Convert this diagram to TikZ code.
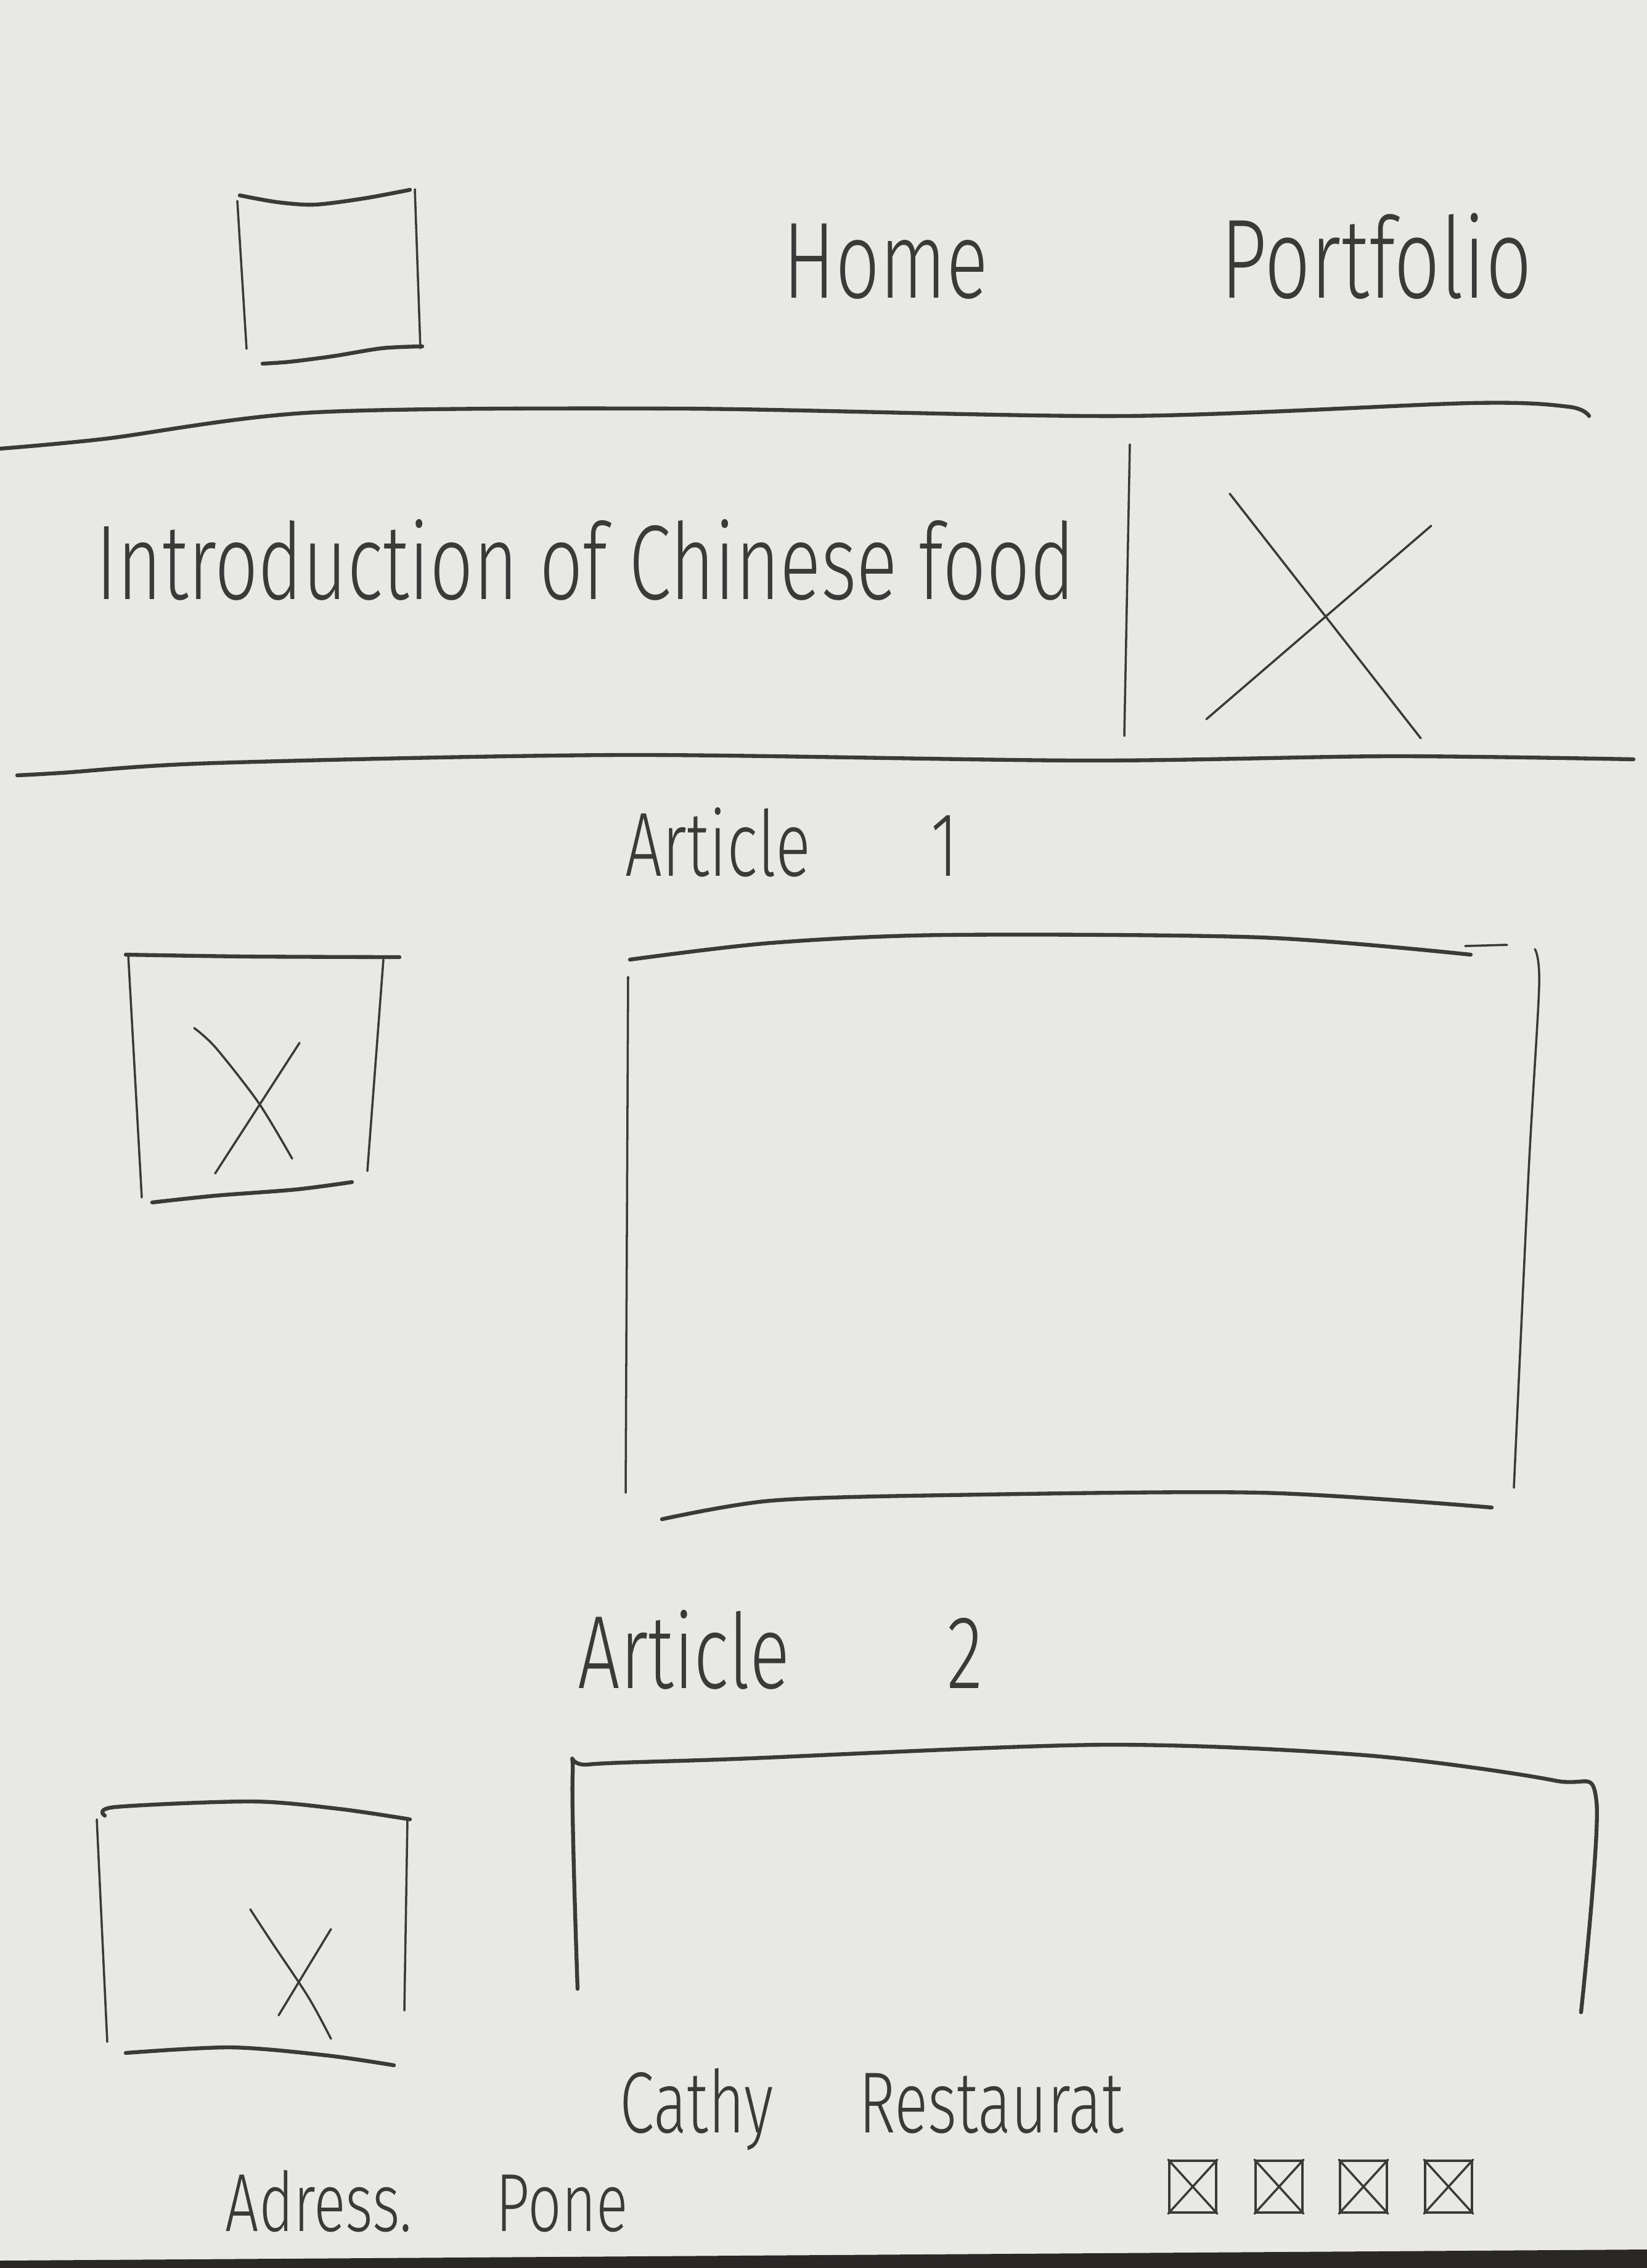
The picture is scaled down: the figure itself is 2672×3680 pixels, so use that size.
\documentclass[tikz,border=0pt]{standalone}
\usepackage{fontspec}
\usepackage{tikz}
\usetikzlibrary{positioning,calc}
\newfontfamily\handfont[FakeStretch=0.72]{Fira Sans Light}
\newcommand{\hsz}[1]{\handfont\fontsize{#1}{#1}\selectfont}
\definecolor{paper}{RGB}{232,233,229}
\definecolor{ink}{RGB}{58,58,56}
\definecolor{tabledark}{RGB}{42,40,38}

\begin{document}
\begin{tikzpicture}[x=0.01cm, y=-0.01cm,
  pen/.style={draw=ink, line width=1pt, line cap=round, line join=round},
  thickpen/.style={draw=ink, line width=1.8pt, line cap=round, line join=round},
  hand/.style={inner sep=0pt, anchor=base west, text=ink},
  icon/.style={pen, minimum width=0.76cm, minimum height=0.84cm, inner sep=0pt},
]
\useasboundingbox (0,0) rectangle (2672,3680);
\fill[paper] (0,0) rectangle (2672,3680);
\fill[tabledark] (0,3668) -- (900,3662) -- (2672,3650) -- (2672,3680) -- (0,3680) -- cycle;

%% Header: logo + menu
\draw[thickpen] plot[smooth] coordinates {(389,317) (450,328) (511,332) (590,322) (665,308)};
\draw[pen] (385,326) -- (400,566);
\draw[pen] (673,307) -- (682,565);
\draw[thickpen] plot[smooth] coordinates {(426,590) (470,587) (540,578) (620,565) (685,562)};
\node[hand, font=\hsz{50}] (home) at (1270,483) {Home};
\node[hand, font=\hsz{52}] (portfolio) at (1980,483) {Portfolio};

%% Divider under header
\draw[thickpen] plot[smooth] coordinates {(0,728) (170,712) (511,669) (1108,663) (1823,675) (2386,654) (2545,660) (2578,675)};

%% Hero: title | picture
\node[hand, font=\hsz{49}] (intro) at (155,972) {Introduction of Chinese food};
\coordinate (divtop) at (1833,721);
\coordinate (divbot) at (1824,1194);
\draw[pen] (divtop) -- (divbot);
\draw[pen] (1995,801) -- (2305,1198);
\draw[pen] (2322,853) -- (1957,1167);

%% Divider under hero
\draw[thickpen] plot[smooth] coordinates {(28,1258) (100,1254) (349,1238) (1012,1225) (1758,1234) (2255,1227) (2650,1232)};

%% Article 1
\node[hand, font=\hsz{42}] (art1) at (1014,1421) {Article \hspace{1.65cm}1};
% thumbnail
\draw[thickpen] plot[smooth] coordinates {(204,1549) (400,1552) (648,1553)};
\draw[pen] (208,1549) -- (230,1943);
\draw[pen] (622,1557) -- (596,1900);
\draw[thickpen] plot[smooth] coordinates {(247,1951) (350,1940) (480,1930) (571,1918)};
\draw[pen] plot[smooth] coordinates {(315,1668) (350,1700) (420,1790) (474,1880)};
\draw[pen] (486,1692) -- (349,1904);
% text block
\draw[thickpen] plot[smooth] coordinates {(1022,1557) (1250,1530) (1534,1517) (2045,1521) (2386,1549)};
\draw[pen] (2377,1535) -- (2445,1533);
\draw[pen] (1019,1585) -- (1015,2422);
\draw[pen] plot[smooth] coordinates {(2490,1540) (2497,1600) (2480,1900) (2456,2414)};
\draw[thickpen] plot[smooth] coordinates {(1074,2465) (1250,2435) (1534,2426) (2045,2422) (2420,2446)};

%% Article 2
\node[hand, font=\hsz{48}] (art2) at (937,2739) {Article \hspace{2.2cm}2};
% thumbnail
\draw[thickpen] plot[smooth] coordinates {(170,2946) (187,2932) (409,2923) (550,2935) (665,2952)};
\draw[pen] (157,2952) -- (174,3313);
\draw[pen] (661,2952) -- (656,3262);
\draw[thickpen] plot[smooth] coordinates {(204,3331) (375,3322) (530,3335) (639,3351)};
\draw[pen] plot[smooth] coordinates {(406,3098) (440,3150) (500,3240) (537,3308)};
\draw[pen] (537,3130) -- (452,3270);
% text block (open at the bottom)
\draw[thickpen] plot[smooth] coordinates {(937,3227) (929,2880) (954,2863) (1193,2854) (1789,2831) (2215,2848) (2522,2889) (2590,2923) (2565,3265)};

%% Footer
\node[hand, font=\hsz{40}] (brand) at (1005,3460) {Cathy \hspace{1.1cm}Restaurat};
\node[hand, font=\hsz{38}] (contact) at (365,3620) {Adress. \hspace{1.0cm}Pone};
\foreach \i/\xx in {1/1935, 2/2075, 3/2212, 4/2350} {
  \node[icon] (ic\i) at (\xx,3548) {};
  \draw[pen] (ic\i.north west) -- (ic\i.south east);
  \draw[pen] (ic\i.north east) -- (ic\i.south west);
}

\end{tikzpicture}
\end{document}
